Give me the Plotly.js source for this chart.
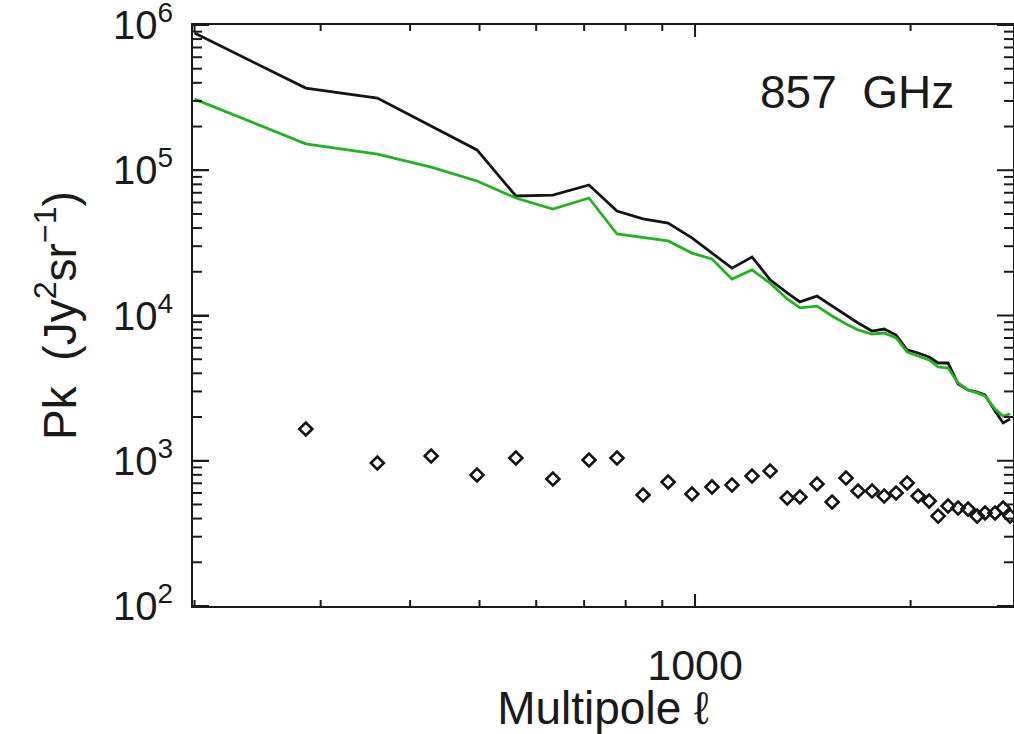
<!DOCTYPE html>
<html>
<head>
<meta charset="utf-8">
<script src="https://cdn.plot.ly/plotly-3.0.1.min.js"></script>
<style>html,body{margin:0;padding:0;background:#fff;}#chart{width:1014px;height:734px;}</style>
</head>
<body>
<div id="chart"></div>
<script>
// Multipole bins
const ellLine = [200, 286, 360, 428, 496, 562, 633, 711, 778, 846, 917, 990, 1056, 1126, 1201, 1273, 1345, 1401, 1480, 1554, 1625, 1689, 1767, 1837, 1909, 1978, 2049, 2123, 2185, 2256, 2330, 2406, 2477, 2541, 2624, 2693, 2754];
// Total power spectrum (black)
const pkTotal = [880000, 368000, 314000, 202000, 138000, 66500, 67500, 79200, 52400, 46200, 43300, 34200, 26900, 21200, 25300, 17600, 14300, 12400, 13600, 11600, 10100, 8880, 7820, 8070, 7340, 5790, 5520, 5180, 4710, 4710, 3380, 3070, 2970, 2840, 2200, 1820, 1940];
// Green spectrum
const pkGreen = [309000, 152000, 129000, 105000, 84300, 64400, 54100, 64400, 36400, 34200, 32600, 26900, 24500, 17800, 20600, 16700, 13000, 11300, 11600, 9920, 8740, 7950, 7460, 7580, 7000, 5610, 5260, 4940, 4420, 4350, 3430, 3070, 2930, 2790, 2270, 2030, 2100];
// Diamonds
const ellPts = [286, 360, 428, 496, 562, 633, 711, 778, 846, 917, 990, 1056, 1126, 1201, 1273, 1345, 1401, 1480, 1554, 1625, 1689, 1767, 1837, 1909, 1978, 2049, 2123, 2185, 2256, 2330, 2406, 2477, 2541, 2624, 2693, 2754];
const pkPts = [1654, 965, 1078, 798, 1045, 749, 1012, 1045, 581, 714, 590, 660, 681, 785, 850, 554, 563, 692, 520, 761, 619, 619, 572, 600, 703, 572, 528, 416, 488, 473, 465, 416, 437, 437, 473, 416];

// Tick labels
const xTickVals = [1000];
const xTickText = ['1000'];
const yTickVals = [100, 1000, 10000, 100000, 1000000];
const yTickText = ['10<sup>2</sup>', '10<sup>3</sup>', '10<sup>4</sup>', '10<sup>5</sup>', '10<sup>6</sup>'];
const xMinorVals = [200, 300, 400, 500, 600, 700, 800, 900, 2000];
const yMinorVals = [];
for (let e = 2; e < 6; e++) for (let d = 2; d <= 9; d++) yMinorVals.push(d * Math.pow(10, e));

const FONT = 'Liberation Sans, Arial, sans-serif';
const INK = '#1a1a1a';
const XR = [Math.log10(199), Math.log10(2780)];
const YR = [2, 6];
const PW = 820, PH = 581; // plot area in px

// Tick marks drawn on a [0,1] overlay frame, placed through the log scales above
const fx = v => (Math.log10(v) - XR[0]) / (XR[1] - XR[0]);
const fy = v => (Math.log10(v) - YR[0]) / (YR[1] - YR[0]);
const tkX = [], tkY = [];
function yTick(v, len) {
  const p = fy(v), l = len / PW;
  tkX.push(0, l, null, 1, 1 - l, null); tkY.push(p, p, null, p, p, null);
}
function xTick(v, len) {
  const q = fx(v), l = len / PH;
  tkX.push(q, q, null, q, q, null); tkY.push(0, l, null, 1, 1 - l, null);
}
yTickVals.forEach(v => yTick(v, 16));
yMinorVals.forEach(v => yTick(v, 9));
xTickVals.forEach(v => xTick(v, 12));
xMinorVals.forEach(v => xTick(v, 6));

const traces = [
  {x: ellLine, y: pkTotal, type: 'scatter', mode: 'lines', line: {color: '#141414', width: 2.8}},
  {x: ellLine, y: pkGreen, type: 'scatter', mode: 'lines', line: {color: '#22b222', width: 2.8}},
  {x: ellPts, y: pkPts, type: 'scatter', mode: 'markers',
   marker: {symbol: 'diamond-open', size: 10, color: '#141414', line: {width: 2.6, color: '#141414'}}},
  {x: tkX, y: tkY, xaxis: 'x3', yaxis: 'y3', type: 'scatter', mode: 'lines', connectgaps: false,
   line: {color: INK, width: 2}, hoverinfo: 'skip', cliponaxis: false}
];

const layout = {
  width: 1014, height: 734,
  margin: {l: 193, r: 1, t: 25, b: 128, pad: 0},
  paper_bgcolor: '#fff', plot_bgcolor: '#fff',
  showlegend: false,
  font: {family: FONT, color: INK},
  xaxis: {
    type: 'log', range: XR,
    showgrid: false, zeroline: false,
    showline: true, linecolor: INK, linewidth: 2, mirror: true,
    ticks: 'inside', ticklen: 12, tickwidth: 2, tickcolor: INK,
    tickmode: 'array', tickvals: xTickVals, ticktext: xTickText,
    tickfont: {size: 43, family: FONT, color: INK},
    ticklabelstandoff: 20, ticklabeloverflow: 'allow',
    title: {text: 'Multipole \u2113', font: {size: 46, family: FONT, color: INK}, standoff: 12}
  },
  yaxis: {
    type: 'log', range: YR,
    showgrid: false, zeroline: false,
    showline: true, linecolor: INK, linewidth: 2, mirror: true,
    ticks: 'inside', ticklen: 16, tickwidth: 2, tickcolor: INK,
    tickmode: 'array', tickvals: yTickVals, ticktext: yTickText,
    tickfont: {size: 40, family: FONT, color: INK},
    ticklabelstandoff: 10, ticklabeloverflow: 'allow',
    title: {text: 'Pk\u00a0 (Jy<sup>2</sup>sr<sup>\u22121</sup>)', font: {size: 46, family: FONT, color: INK}, standoff: 22}
  },
  xaxis3: {overlaying: 'x', range: [0, 1], visible: false, fixedrange: true},
  yaxis3: {overlaying: 'y', range: [0, 1], visible: false, fixedrange: true},
  annotations: [{
    xref: 'paper', yref: 'paper', x: 0.81, y: 0.885, xanchor: 'center', yanchor: 'middle',
    text: '857\u00a0 GHz', showarrow: false, font: {size: 46, family: FONT, color: INK}
  }]
};

Plotly.newPlot('chart', traces, layout, {displayModeBar: false, staticPlot: true});
</script>
</body>
</html>
